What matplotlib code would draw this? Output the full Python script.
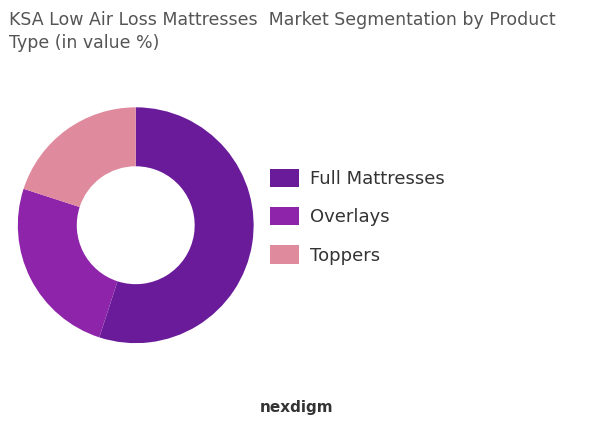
import matplotlib.pyplot as plt

labels = ["Full Mattresses", "Overlays", "Toppers"]
values = [55, 25, 20]
colors = ["#6a1b9a", "#8e24aa", "#e08a9e"]

fig = plt.figure(figsize=(5.94, 4.29), dpi=100)
ax = fig.add_axes([0.03, 0.2, 0.397, 0.55])
wedges, _ = ax.pie(values, colors=colors, startangle=90, counterclock=False,
                   wedgeprops=dict(width=0.5, edgecolor="white", linewidth=0))
ax.set_xlim(-1, 1)
ax.set_ylim(-1, 1)
ax.set_aspect("equal")

fig.text(0.015, 0.975, "KSA Low Air Loss Mattresses  Market Segmentation by Product\nType (in value %)",
         ha="left", va="top", fontsize=12.5, color="#555555", linespacing=1.4)

fig.legend(wedges, labels, loc="center left", bbox_to_anchor=(0.427, 0.495),
           frameon=False, fontsize=13, handlelength=1.6, handleheight=1.2,
           labelspacing=1.05, handletextpad=0.6, labelcolor="#333333")

fig.text(0.5, 0.05, "nexdigm", ha="center", va="center", fontsize=11,
         color="#333333", fontweight="bold")

fig.savefig("out.png", dpi=100)
